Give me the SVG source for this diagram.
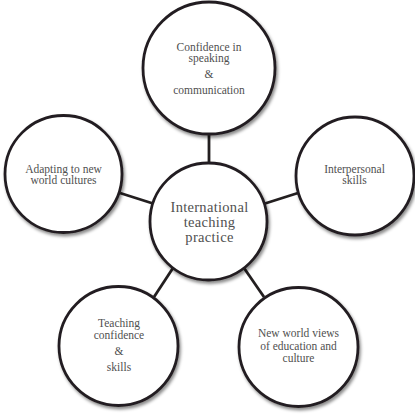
<svg xmlns="http://www.w3.org/2000/svg" width="415" height="417" viewBox="0 0 415 417">
<defs>
<filter id="sh" x="-20%" y="-20%" width="140%" height="140%">
<feDropShadow dx="1.5" dy="2.5" stdDeviation="1.8" flood-color="#000" flood-opacity="0.45"/>
</filter>
</defs>
<style>
.node circle{fill:#fff;stroke:#231f20;stroke-width:2.8;filter:url(#sh)}
.conn line{stroke:#231f20;stroke-width:2.8}
text{font-family:"Liberation Serif","Times New Roman",serif;fill:#505050;text-anchor:middle}
.s{font-size:11.5px}
.c{font-size:14.5px;letter-spacing:0.3px}
</style>
<g id="connectors" class="conn">
<line x1="209" y1="134" x2="209" y2="164"/>
<line x1="120" y1="193" x2="153" y2="203.5"/>
<line x1="265" y1="203.5" x2="298" y2="193"/>
<line x1="173" y1="268" x2="154" y2="297"/>
<line x1="244" y1="268" x2="264" y2="297"/>
</g>
<g id="node-top" class="node">
<circle cx="209" cy="68" r="66"/>
<text class="s" x="209" y="50.7">Confidence in</text>
<text class="s" x="209" y="61.7">speaking</text>
<text class="s" x="209" y="78.3">&amp;</text>
<text class="s" x="209" y="94.3">communication</text>
</g>
<g id="node-left" class="node">
<circle cx="63.5" cy="174" r="58.5"/>
<text class="s" x="63.5" y="173">Adapting to new</text>
<text class="s" x="63.5" y="184">world cultures</text>
</g>
<g id="node-right" class="node">
<circle cx="355" cy="176" r="59"/>
<text class="s" x="354.5" y="172.7">Interpersonal</text>
<text class="s" x="354.5" y="183.5">skills</text>
</g>
<g id="node-bottom-left" class="node">
<circle cx="118.5" cy="346" r="59.5"/>
<text class="s" x="119" y="326.7">Teaching</text>
<text class="s" x="119" y="339">confidence</text>
<text class="s" x="119" y="355">&amp;</text>
<text class="s" x="119" y="371">skills</text>
</g>
<g id="node-bottom-right" class="node">
<circle cx="298.5" cy="347" r="59.5"/>
<text class="s" x="298.5" y="336.7">New world views</text>
<text class="s" x="298.5" y="349.5">of education and</text>
<text class="s" x="298.5" y="361.5">culture</text>
</g>
<g id="node-center" class="node">
<circle cx="208.5" cy="221.5" r="58.5"/>
<text class="c" x="209.5" y="211.5">International</text>
<text class="c" x="209.5" y="226.5">teaching</text>
<text class="c" x="209.5" y="241.5">practice</text>
</g>
</svg>
